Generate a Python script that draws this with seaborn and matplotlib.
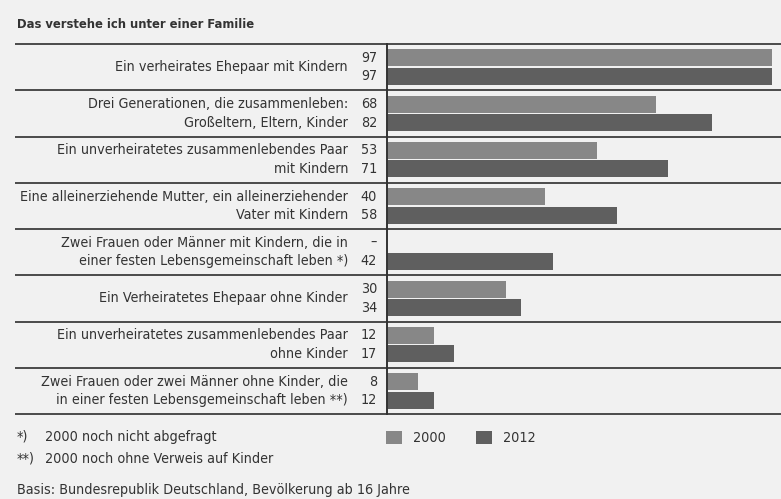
import numpy as np
import pandas as pd
import matplotlib.pyplot as plt
import seaborn as sns
from matplotlib.patches import Patch

# --- data ---
categories = [
    "Ein verheirates Ehepaar mit Kindern",
    "Drei Generationen, die zusammenleben:\nGroßeltern, Eltern, Kinder",
    "Ein unverheiratetes zusammenlebendes Paar\nmit Kindern",
    "Eine alleinerziehende Mutter, ein alleinerziehender\nVater mit Kindern",
    "Zwei Frauen oder Männer mit Kindern, die in\neiner festen Lebensgemeinschaft leben *)",
    "Ein Verheiratetes Ehepaar ohne Kinder",
    "Ein unverheiratetes zusammenlebendes Paar\nohne Kinder",
    "Zwei Frauen oder zwei Männer ohne Kinder, die\nin einer festen Lebensgemeinschaft leben **)",
]
years = ["2000", "2012"]
values_2000 = [97, 68, 53, 40, np.nan, 30, 12, 8]
values_2012 = [97, 82, 71, 58, 42, 34, 17, 12]
footnotes = [("*)", "2000 noch nicht abgefragt"),
             ("**)", "2000 noch ohne Verweis auf Kinder")]
title = "Das verstehe ich unter einer Familie"
source = "Basis: Bundesrepublik Deutschland, Bevölkerung ab 16 Jahre"

df = pd.DataFrame({
    "cat": categories * 2,
    "year": [years[0]] * len(categories) + [years[1]] * len(categories),
    "value": values_2000 + values_2012,
})

bg = "#f1f1f1"
palette = {"2000": "#878787", "2012": "#5f5f5f"}
line_col = "#4a4a4a"
text_col = "#333333"

sns.set_style("white")
plt.rcParams["font.family"] = ["DejaVu Sans"]
plt.rcParams["font.stretch"] = "condensed"

W, H = 781, 499
fig = plt.figure(figsize=(W / 100, H / 100), dpi=100, facecolor=bg)
ax_l, ax_r, ax_top, ax_bot = 386.5, 781, 44, 414
ax = fig.add_axes([ax_l / W, 1 - ax_bot / H, (ax_r - ax_l) / W, (ax_bot - ax_top) / H])
ax.set_facecolor(bg)

sns.barplot(data=df, y="cat", x="value", hue="year", order=categories,
            hue_order=years, palette=palette, orient="h", width=0.8, gap=0.08,
            saturation=1, ax=ax, legend=False, edgecolor="none")

ax.set_xlim(0, (ax_r - ax_l) / 3.97)
ax.set_ylim(len(categories) - 0.5, -0.5)
ax.set_xticks([])
ax.set_yticks([])
ax.set_xlabel("")
ax.set_ylabel("")
for s in ["top", "right", "bottom"]:
    ax.spines[s].set_visible(False)
ax.spines["left"].set_color("#333333")
ax.spines["left"].set_linewidth(1.4)

tr = ax.get_yaxis_transform()
x_line0 = (15 - ax_l) / (ax_r - ax_l)
x_cat = (348 - ax_l) / (ax_r - ax_l)
x_val = (377 - ax_l) / (ax_r - ax_l)
fs = 10.3

# group separators
for k in range(len(categories) + 1):
    ax.plot([x_line0, 1], [k - 0.5, k - 0.5], transform=tr, color=line_col,
            lw=1.4, clip_on=False, solid_capstyle="butt")

off = 0.2
for i, cat in enumerate(categories):
    lines = cat.split("\n")
    if len(lines) == 1:
        ax.text(x_cat, i, lines[0], transform=tr, ha="right", va="center",
                fontsize=fs, color=text_col)
    else:
        ax.text(x_cat, i - off, lines[0], transform=tr, ha="right", va="center",
                fontsize=fs, color=text_col)
        ax.text(x_cat, i + off, lines[1], transform=tr, ha="right", va="center",
                fontsize=fs, color=text_col)
    for v, d in ((values_2000[i], -off), (values_2012[i], off)):
        lab = "–" if np.isnan(v) else f"{v:.0f}"
        ax.text(x_val, i + d, lab, transform=tr, ha="right", va="center",
                fontsize=fs, color=text_col)

# title
fig.text(17 / W, 1 - 25 / H, title, fontsize=9.3, fontweight="bold",
         color=text_col, ha="left", va="center")

# footnotes
for j, (mark, txt) in enumerate(footnotes):
    y = 1 - (437 + 22 * j) / H
    fig.text(17 / W, y, mark, fontsize=fs, color=text_col, ha="left", va="center")
    fig.text(45 / W, y, txt, fontsize=fs, color=text_col, ha="left", va="center")

fig.text(17 / W, 1 - 490 / H, source, fontsize=fs, color=text_col,
         ha="left", va="center")

# legend
handles = [Patch(facecolor=palette[y], edgecolor="none") for y in years]
fig.legend(handles, years, loc="center left",
           bbox_to_anchor=(373 / W, 1 - 438 / H), ncol=2, frameon=False,
           fontsize=fs, handlelength=1.1, handleheight=1.1, handletextpad=0.8,
           columnspacing=2.1, labelcolor=text_col)

fig.savefig("out.png", dpi=100, facecolor=bg)
